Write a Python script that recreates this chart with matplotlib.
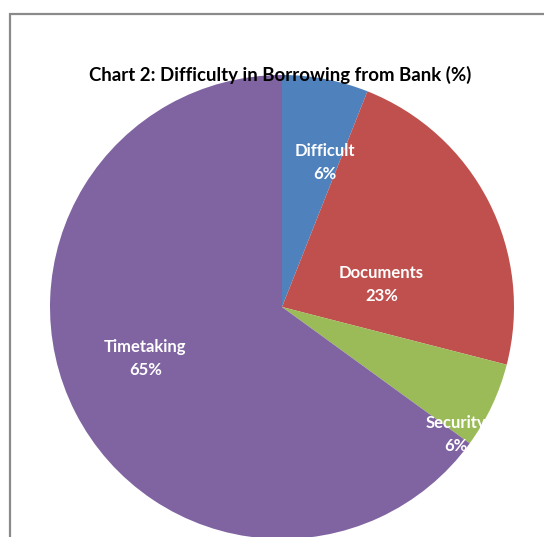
import numpy as np
import matplotlib.pyplot as plt
from matplotlib.patches import Rectangle

categories = ['Difficult', 'Documents', 'Security', 'Timetaking']
shares = [6, 23, 6, 65]
colors = ['#4F81BD', '#C0504D', '#9BBB59', '#8064A2']

# label placement per slice: radius fraction and angular nudge (deg) from the wedge middle
label_r = [0.65, 0.44, 0.93, 0.63]
label_shift = [-5.8, -14.3, -10.9, -6.3]

W, H = 544, 537
fig = plt.figure(figsize=(W / 100, H / 100), dpi=100)

# chart frame
fig.patches.append(Rectangle((10 / W, -0.1), 1.2, (H - 14) / H + 0.1,
                             transform=fig.transFigure, fill=False,
                             edgecolor='#8a8a8a', linewidth=1.6, zorder=0))

cx, cy, R = 282, 307, 232
ax = fig.add_axes([(cx - R) / W, (H - cy - R) / H, 2 * R / W, 2 * R / H])
wedges, _ = ax.pie(shares, colors=colors, startangle=90, counterclock=False,
                   radius=1, wedgeprops=dict(linewidth=0))
ax.set_xlim(-1, 1)
ax.set_ylim(-1, 1)
ax.axis('off')

for w, name, val, r, sh in zip(wedges, categories, shares, label_r, label_shift):
    mid = np.deg2rad((w.theta1 + w.theta2) / 2 + sh)
    ax.text(r * np.cos(mid), r * np.sin(mid), f'{name}\n{val}%',
            ha='center', va='center', color='white', fontsize=12,
            fontweight='bold', family='Lato', linespacing=1.55)

fig.text(280 / W, 1 - 75 / H, 'Chart 2: Difficulty in Borrowing from Bank (%)',
         ha='center', va='center', fontsize=13.4, fontweight='bold',
         family='Lato', color='black')

fig.savefig('out.png', dpi=100)
